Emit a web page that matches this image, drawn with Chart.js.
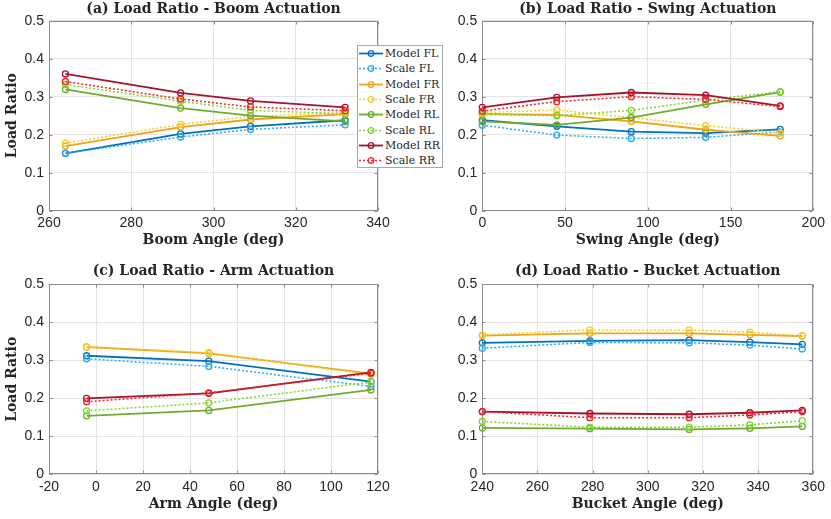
<!DOCTYPE html>
<html><head><meta charset="utf-8">
<script src="https://cdn.jsdelivr.net/npm/chart.js@4/dist/chart.umd.min.js"></script>
<style>
html,body{margin:0;padding:0;background:#fff;}
#fig{position:relative;width:831px;height:519px;overflow:hidden;background:#fff;}
#fig canvas{position:absolute;}
#legend{position:absolute;left:357px;top:45px;width:86px;height:123px;box-sizing:border-box;border:1px solid #a8a8a8;background:#fff;font-family:"DejaVu Serif",serif;font-size:11px;color:#262626;}
#legend .row{position:absolute;left:0;height:15px;display:flex;align-items:center;white-space:nowrap;}
#legend svg{display:block;margin-right:1px;}
</style></head>
<body><div id="fig">
<canvas id="cA" width="415" height="255" style="left:0;top:0"></canvas>
<canvas id="cB" width="416" height="255" style="left:415px;top:0"></canvas>
<canvas id="cC" width="415" height="264" style="left:0;top:255px"></canvas>
<canvas id="cD" width="416" height="264" style="left:415px;top:255px"></canvas>
<div id="legend"></div>
</div>
<script>
// ---------- data ----------
const seriesNames = ['Model FL','Scale FL','Model FR','Scale FR','Model RL','Scale RL','Model RR','Scale RR'];
const yTicks = [0, 0.1, 0.2, 0.3, 0.4, 0.5];

const boomAngle = [264, 292, 309, 332];
const boomTicks = [260, 280, 300, 320, 340];
const boomModelFL = [0.151, 0.202, 0.222, 0.238];
const boomScaleFL = [0.151, 0.194, 0.214, 0.226];
const boomModelFR = [0.170, 0.220, 0.240, 0.254];
const boomScaleFR = [0.178, 0.227, 0.248, 0.258];
const boomModelRL = [0.319, 0.270, 0.250, 0.235];
const boomScaleRL = [0.332, 0.288, 0.264, 0.255];
const boomModelRR = [0.360, 0.310, 0.289, 0.272];
const boomScaleRR = [0.340, 0.294, 0.273, 0.263];

const swingAngle = [0, 45, 90, 135, 180];
const swingTicks = [0, 50, 100, 150, 200];
const swingModelFL = [0.238, 0.222, 0.208, 0.204, 0.214];
const swingScaleFL = [0.225, 0.199, 0.190, 0.193, 0.207];
const swingModelFR = [0.255, 0.252, 0.235, 0.213, 0.197];
const swingScaleFR = [0.258, 0.265, 0.245, 0.224, 0.205];
const swingModelRL = [0.235, 0.226, 0.245, 0.280, 0.312];
const swingScaleRL = [0.253, 0.250, 0.264, 0.291, 0.313];
const swingModelRR = [0.272, 0.298, 0.311, 0.304, 0.276];
const swingScaleRR = [0.262, 0.287, 0.300, 0.293, 0.274];

const armAngle = [-4, 48, 117];
const armTicks = [-20, 0, 20, 40, 60, 80, 100, 120];
const armModelFL = [0.312, 0.298, 0.244];
const armScaleFL = [0.304, 0.284, 0.231];
const armModelFR = [0.335, 0.318, 0.265];
const armScaleFR = [0.335, 0.320, 0.262];
const armModelRL = [0.154, 0.168, 0.222];
const armScaleRL = [0.167, 0.188, 0.243];
const armModelRR = [0.200, 0.213, 0.268];
const armScaleRR = [0.191, 0.214, 0.266];

const bucketAngle = [240, 279, 315, 337, 356];
const bucketTicks = [240, 260, 280, 300, 320, 340, 360];
const bucketModelFL = [0.346, 0.351, 0.353, 0.348, 0.342];
const bucketScaleFL = [0.332, 0.347, 0.346, 0.340, 0.330];
const bucketModelFR = [0.365, 0.371, 0.371, 0.367, 0.364];
const bucketScaleFR = [0.367, 0.380, 0.380, 0.374, 0.364];
const bucketModelRL = [0.122, 0.120, 0.118, 0.121, 0.126];
const bucketScaleRL = [0.139, 0.124, 0.124, 0.130, 0.141];
const bucketModelRR = [0.165, 0.160, 0.158, 0.162, 0.168];
const bucketScaleRR = [0.165, 0.149, 0.149, 0.156, 0.165];

const panelTitles = ['(a) Load Ratio - Boom Actuation','(b) Load Ratio - Swing Actuation','(c) Load Ratio - Arm Actuation','(d) Load Ratio - Bucket Actuation'];
const xTitles = ['Boom Angle (deg)','Swing Angle (deg)','Arm Angle (deg)','Bucket Angle (deg)'];
const yTitle = 'Load Ratio';

// ---------- styles ----------
const seriesColors = ['#0072BD','#2EA9EE','#EDA31C','#F2CE2B','#70AB2F','#7CD82C','#A2142F','#F5222A'];
const seriesIsModel = [true,false,true,false,true,false,true,false];
const AXIS = '#8c8c8c', GRID = '#e3e3e3', TXT = '#262626';

const framePlugin = {
  id: 'frame',
  beforeDatasetsDraw(chart) {
    const {ctx, chartArea: ca, scales: {x, y}} = chart;
    const L = Math.round(ca.left) + 0.5, R = Math.round(ca.right) - 0.5;
    const T = Math.round(ca.top) + 0.5, B = Math.round(ca.bottom) - 0.5;
    ctx.save();
    ctx.strokeStyle = AXIS; ctx.lineWidth = 1;
    ctx.strokeRect(L, T, R - L, B - T);
    ctx.beginPath();
    x.ticks.forEach(t => {
      const p = Math.round(x.getPixelForValue(t.value)) + 0.5;
      ctx.moveTo(p, B); ctx.lineTo(p, B - 3);
      ctx.moveTo(p, T); ctx.lineTo(p, T + 3);
    });
    y.ticks.forEach(t => {
      const p = Math.round(y.getPixelForValue(t.value)) + 0.5;
      ctx.moveTo(L, p); ctx.lineTo(L + 3, p);
      ctx.moveTo(R, p); ctx.lineTo(R - 3, p);
    });
    ctx.stroke();
    ctx.restore();
  }
};

function makeChart(id, cfg) {
  const datasets = seriesNames.map((name, i) => ({
    label: name,
    data: cfg.x.map((xv, j) => ({x: xv, y: cfg.series[i][j]})),
    borderColor: seriesColors[i],
    backgroundColor: seriesColors[i],
    borderWidth: seriesIsModel[i] ? 1.8 : 1.5,
    borderDash: seriesIsModel[i] ? [] : [2, 2],
    pointRadius: 3,
    pointHoverRadius: 3,
    pointBorderWidth: 1.3,
    pointBackgroundColor: 'rgba(255,255,255,0)',
    pointBorderColor: seriesColors[i],
    tension: 0,
    clip: 8,
    order: 7 - i
  }));
  const tickFont = {family: '"Liberation Sans", Arial, sans-serif', size: 14};
  const serifBold = {family: '"DejaVu Serif", serif', size: 14, weight: 'bold'};
  return new Chart(document.getElementById(id), {
    type: 'line',
    data: {datasets},
    plugins: [framePlugin],
    options: {
      responsive: false, animation: false, devicePixelRatio: 1,
      events: [],
      layout: {padding: {left: 0, right: cfg.padR, top: 0, bottom: 0}},
      plugins: {
        legend: {display: false},
        tooltip: {enabled: false},
        title: {display: true, text: cfg.title, fullSize: false, color: TXT,
          font: {family: '"DejaVu Serif", serif', size: 14, weight: 'bold'},
          padding: {top: cfg.titlePadT, bottom: cfg.titlePadB}}
      },
      scales: {
        x: {
          type: 'linear', min: cfg.xTicks[0], max: cfg.xTicks[cfg.xTicks.length - 1],
          afterBuildTicks: s => { s.ticks = cfg.xTicks.map(v => ({value: v})); },
          afterFit: s => { s.height = cfg.xH; },
          grid: {color: GRID, drawTicks: false, lineWidth: 1},
          border: {display: false},
          ticks: {font: tickFont, color: TXT, padding: 4, maxRotation: 0, autoSkip: false, callback: v => String(v)},
          title: {display: true, text: cfg.xTitle, color: TXT, font: serifBold, padding: {top: 0, bottom: 6.5}}
        },
        y: {
          type: 'linear', min: 0, max: 0.5,
          afterBuildTicks: s => { s.ticks = yTicks.map(v => ({value: v})); },
          afterFit: s => { s.width = cfg.yW; },
          grid: {color: GRID, drawTicks: false, lineWidth: 1},
          border: {display: false},
          ticks: {font: tickFont, color: TXT, padding: 5, autoSkip: false, callback: v => String(v)},
          title: {display: cfg.showY, text: yTitle, color: TXT, font: serifBold, padding: {top: 4, bottom: 0}}
        }
      }
    }
  });
}

makeChart('cA', {x: boomAngle, xTicks: boomTicks, title: panelTitles[0], xTitle: xTitles[0], showY: true,
  series: [boomModelFL, boomScaleFL, boomModelFR, boomScaleFR, boomModelRL, boomScaleRL, boomModelRR, boomScaleRR],
  padR: 37, yW: 49, xH: 44.3, titlePadT: 1, titlePadB: 2.9});
makeChart('cB', {x: swingAngle, xTicks: swingTicks, title: panelTitles[1], xTitle: xTitles[1], showY: false,
  series: [swingModelFL, swingScaleFL, swingModelFR, swingScaleFR, swingModelRL, swingScaleRL, swingModelRR, swingScaleRR],
  padR: 17.7, yW: 67.3, xH: 44.3, titlePadT: 1, titlePadB: 2.9});
makeChart('cC', {x: armAngle, xTicks: armTicks, title: panelTitles[2], xTitle: xTitles[2], showY: true,
  series: [armModelFL, armScaleFL, armModelFR, armScaleFR, armModelRL, armScaleRL, armModelRR, armScaleRR],
  padR: 37, yW: 49, xH: 44.7, titlePadT: 8.3, titlePadB: 4.2});
makeChart('cD', {x: bucketAngle, xTicks: bucketTicks, title: panelTitles[3], xTitle: xTitles[3], showY: false,
  series: [bucketModelFL, bucketScaleFL, bucketModelFR, bucketScaleFR, bucketModelRL, bucketScaleRL, bucketModelRR, bucketScaleRR],
  padR: 17.7, yW: 67.3, xH: 44.7, titlePadT: 8.3, titlePadB: 4.2});

// ---------- legend (HTML) ----------
const legend = document.getElementById('legend');
seriesNames.forEach((name, i) => {
  const row = document.createElement('div');
  row.className = 'row';
  row.style.top = (7.3 + 15.35 * i - 7.5) + 'px';
  const dash = seriesIsModel[i] ? '' : ' stroke-dasharray="2,2"';
  row.innerHTML = '<svg width="26" height="15"><line x1="1" y1="7.5" x2="25" y2="7.5" stroke="' + seriesColors[i] +
    '" stroke-width="' + (seriesIsModel[i] ? 1.8 : 1.5) + '"' + dash + '/><circle cx="13" cy="7.5" r="2.8" fill="none" stroke="' +
    seriesColors[i] + '" stroke-width="1.3"/></svg><span>' + name + '</span>';
  legend.appendChild(row);
});
</script>
</body></html>
